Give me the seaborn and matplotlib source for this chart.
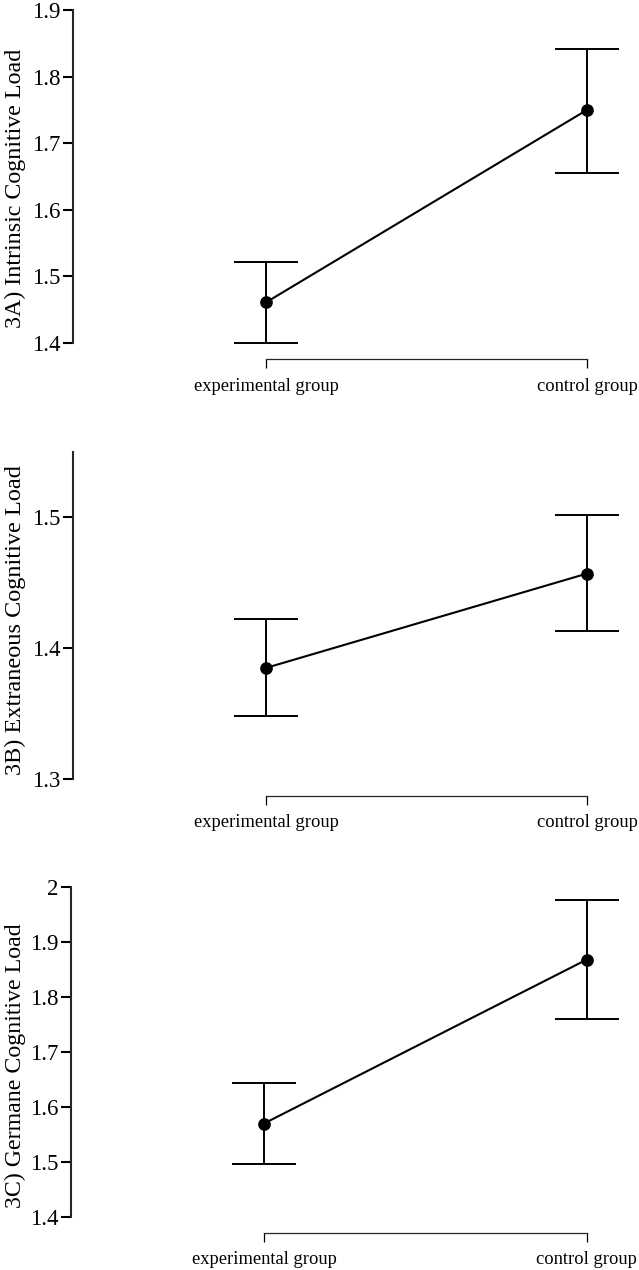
import numpy as np
import pandas as pd
import matplotlib
matplotlib.use("Agg")
import matplotlib.pyplot as plt
from matplotlib.ticker import FormatStrFormatter
import seaborn as sns

# group means with lower/upper error bar ends
grupos = ["experimental group", "control group"]

intrinsic_mean = [1.461, 1.750]
intrinsic_low = [1.400, 1.655]
intrinsic_high = [1.521, 1.842]

extraneous_mean = [1.385, 1.457]
extraneous_low = [1.348, 1.413]
extraneous_high = [1.422, 1.502]

germane_mean = [1.570, 1.868]
germane_low = [1.496, 1.760]
germane_high = [1.644, 1.976]

intrinsic_ticks = [1.4, 1.5, 1.6, 1.7, 1.8, 1.9]
extraneous_ticks = [1.3, 1.4, 1.5]
germane_ticks = [1.4, 1.5, 1.6, 1.7, 1.8, 1.9, 2.0]

sns.set_style("ticks")
plt.rcParams['font.family'] = ['Liberation Serif', 'DejaVu Serif']

W, H = 639, 1270
fig = plt.figure(figsize=(W / 100, H / 100), dpi=100)


def montar(media, baixo, alto, ticks, spine_top, titulo, label_px, label_size,
           px_left, px_top, px_y0, px_bottom, px_exp, px_ctl):
    # axes placed in pixel coordinates (left spine, top of axis, x-axis line)
    rect = [px_left / W, 1 - px_bottom / H, (W - px_left) / W, (px_bottom - px_top) / H]
    ax = fig.add_axes(rect)
    dados = pd.DataFrame({'grupo': grupos, 'valor': media})
    sns.pointplot(data=dados, x='grupo', y='valor', order=grupos, color='black',
                  errorbar=None, markers='o', markersize=8, linewidth=1.5, ax=ax)
    media = np.array(media)
    yerr = [media - np.array(baixo), np.array(alto) - media]
    ax.errorbar([0, 1], media, yerr=yerr, fmt='none', ecolor='black',
                elinewidth=1.4, capsize=23, capthick=1.4, zorder=1)

    # scales: map data to the pixel positions of the original
    unit = px_ctl - px_exp
    ax.set_xlim(-(px_exp - px_left) / unit, 1 + (W - px_ctl) / unit)
    y0 = min(ticks)
    per_px = (spine_top - y0) / (px_y0 - px_top)
    ax.set_ylim(y0 - (px_bottom - px_y0) * per_px, spine_top)

    ax.set_yticks(ticks)
    ax.yaxis.set_major_formatter(FormatStrFormatter('%g'))
    ax.set_xticks([0, 1])
    ax.set_xticklabels(grupos)

    sns.despine(ax=ax)
    ax.spines['left'].set_bounds(y0, spine_top)
    ax.spines['left'].set_linewidth(1.5)
    ax.spines['bottom'].set_bounds(0, 1)
    ax.spines['bottom'].set_linewidth(0.9)
    ax.tick_params(axis='y', direction='out', length=7, width=1.5, pad=2,
                   labelsize=16.5, colors='black')
    ax.tick_params(axis='x', direction='out', length=6.5, width=0.9, pad=7,
                   labelsize=13.3, colors='black')

    ax.set_xlabel('')
    ax.set_ylabel(titulo, fontsize=label_size, color='black')
    ax.yaxis.set_label_coords((26 - px_left) / (W - px_left),
                              (px_bottom - label_px) / (px_bottom - px_top))
    ax.grid(False)
    ax.set_facecolor('white')
    return ax


montar(intrinsic_mean, intrinsic_low, intrinsic_high, intrinsic_ticks, 1.9,
       '3A) Intrinsic Cognitive Load', 188, 17.3, 73, 10, 343, 359, 266, 587)
montar(extraneous_mean, extraneous_low, extraneous_high, extraneous_ticks, 1.55,
       '3B) Extraneous Cognitive Load', 620, 17.5, 73, 451.7, 779.3, 795.7, 266, 587)
montar(germane_mean, germane_low, germane_high, germane_ticks, 2.0,
       '3C) Germane Cognitive Load', 1066, 17.2, 71, 887, 1217, 1232.7, 264, 586.7)

fig.savefig('out.png', dpi=100, facecolor='white')
